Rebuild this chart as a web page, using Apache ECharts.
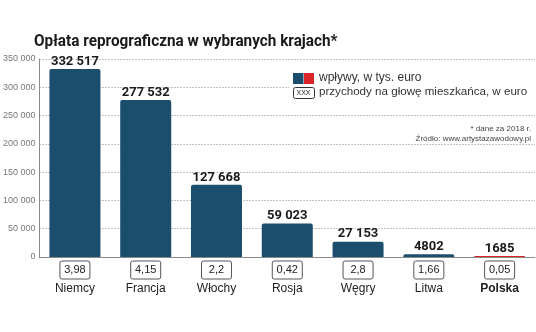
<!DOCTYPE html>
<html>
<head>
<meta charset="utf-8">
<script src="https://cdn.jsdelivr.net/npm/echarts@6/dist/echarts.min.js"></script>
<style>html,body{margin:0;padding:0;background:#fff}#c{width:536px;height:332px}</style>
</head>
<body>
<div id="c"></div>
<script>
const categories = ['Niemcy', 'Francja', 'Włochy', 'Rosja', 'Węgry', 'Litwa', 'Polska'];
const revenue = [332517, 277532, 127668, 59023, 27153, 4802, 1685];
const perCapita = ['3,98', '4,15', '2,2', '0,42', '2,8', '1,66', '0,05'];
const yMin = 0, yMax = 350000, yStep = 50000;
const highlight = 'Polska';

const BOLDF = 'Roboto, "Liberation Sans", sans-serif';
const SANS = '"Liberation Sans", Arial, sans-serif';
const BLUE = '#1b4d6c', RED = '#d8262c';

function fmt(v, bigOnly) {
  const s = String(Math.round(v));
  if (bigOnly && s.length <= 4) return s;
  return s.replace(/\B(?=(\d{3})+(?!\d))/g, ' ');
}

const chart = echarts.init(document.getElementById('c'), null, {renderer: 'canvas'});
chart.setOption({
  animation: false,
  backgroundColor: '#fff',
  grid: {left: 36, right: 1, top: 59, bottom: 75, containLabel: false},
  xAxis: {
    type: 'category',
    data: categories,
    axisLine: {show: true, lineStyle: {color: '#8a8a8a', width: 1}},
    axisTick: {show: false},
    axisLabel: {
      margin: 7,
      interval: 0,
      formatter: function (v, i) {
        return '{box|' + perCapita[i] + '}\n' + (v === highlight ? '{nameB|' + v + '}' : '{name|' + v + '}');
      },
      rich: {
        box: {fontFamily: SANS, fontSize: 11, color: '#222', borderColor: '#555', borderWidth: 1,
              borderRadius: 2, width: 22, height: 12, padding: [3, 4], align: 'center', lineHeight: 12},
        name: {fontFamily: SANS, fontSize: 12, color: '#222', lineHeight: 22, padding: [4, 0, 0, 0]},
        nameB: {fontFamily: SANS, fontSize: 12, fontWeight: 'bold', color: '#222', lineHeight: 22, padding: [4, 0, 0, 0]}
      }
    }
  },
  yAxis: {
    type: 'value',
    min: yMin, max: yMax, interval: yStep,
    axisLine: {show: true, lineStyle: {color: '#8a8a8a', width: 1}},
    axisTick: {show: false},
    splitLine: {show: true, lineStyle: {color: '#888', type: [1, 2], width: 1}},
    axisLabel: {
      margin: 4,
      fontFamily: SANS, fontSize: 9, color: '#777',
      formatter: function (v) { return fmt(v, false); }
    }
  },
  series: [{
    type: 'bar',
    data: revenue,
    barWidth: 51,
    itemStyle: {
      borderRadius: [2, 2, 0, 0],
      color: function (p) { return p.name === highlight ? RED : BLUE; }
    },
    label: {
      show: true, position: 'top', distance: 1,
      fontFamily: BOLDF, fontWeight: 'bold', fontSize: 13, color: '#1a1a1a',
      formatter: function (p) { return fmt(p.value, true); }
    }
  }],
  graphic: [
    {type: 'text', x: 34, y: 42, scaleX: 0.9, z: 12,
     style: {text: 'Opłata reprograficzna w wybranych krajach*', font: 'bold 17px ' + BOLDF, fill: '#1a1a1a', verticalAlign: 'middle'}},
    {type: 'rect', left: 289, top: 64, shape: {width: 247, height: 38}, style: {fill: '#fff'}, z: 10},
    {type: 'rect', left: 293, top: 73, shape: {width: 10.5, height: 11}, style: {fill: BLUE}, z: 11},
    {type: 'rect', left: 304, top: 73, shape: {width: 10, height: 11}, style: {fill: RED}, z: 11},
    {type: 'text', left: 319, top: 72, style: {text: 'wpływy, w tys. euro', font: '12px ' + SANS, fill: '#333'}, z: 11},
    {type: 'rect', left: 293, top: 87, shape: {width: 21, height: 11, r: 2}, style: {fill: '#fff', stroke: '#333', lineWidth: 1}, z: 11},
    {type: 'text', x: 303.5, y: 92.8, style: {text: 'XXX', font: '7px ' + SANS, fill: '#222', align: 'center', verticalAlign: 'middle'}, z: 12},
    {type: 'text', left: 319, top: 86, style: {text: 'przychody na głowę mieszkańca, w euro', font: '11.6px ' + SANS, fill: '#333'}, z: 11},
    {type: 'rect', left: 400, top: 123, shape: {width: 136, height: 20}, style: {fill: '#fff'}, z: 10},
    {type: 'text', x: 531, y: 129, style: {text: '* dane za 2018 r.', font: '8px ' + SANS, fill: '#444', align: 'right', verticalAlign: 'middle'}, z: 11},
    {type: 'text', x: 531, y: 139, style: {text: 'Źródło: www.artystazawodowy.pl', font: '8px ' + SANS, fill: '#444', align: 'right', verticalAlign: 'middle'}, z: 11}
  ]
});
</script>
</body>
</html>
